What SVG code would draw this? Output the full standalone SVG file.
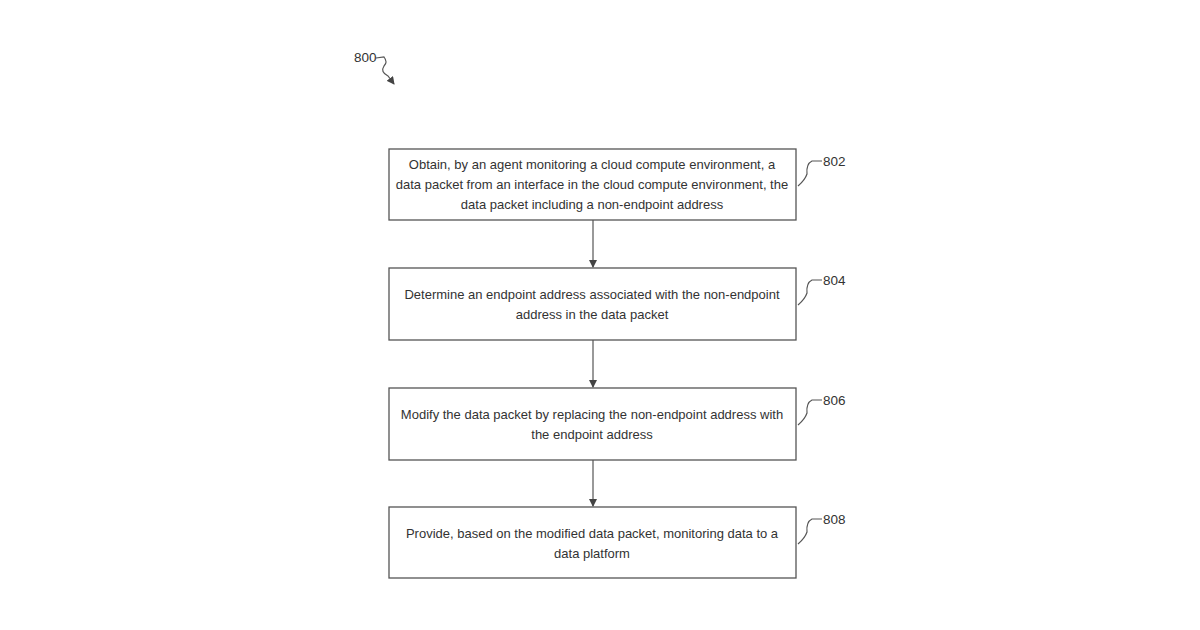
<svg xmlns="http://www.w3.org/2000/svg" width="1200" height="630" viewBox="0 0 1200 630">
<style>
.b{fill:#fff;stroke:#555;stroke-width:1.3}
.t{font-family:"Liberation Sans",Arial,sans-serif;font-size:13px;fill:#333;text-anchor:middle}
.r{font-family:"Liberation Sans",Arial,sans-serif;font-size:13.5px;fill:#333}
.c{fill:none;stroke:#555;stroke-width:1.2}
</style>
<defs><marker id="a" markerWidth="8" markerHeight="8" refX="7" refY="4" orient="auto" markerUnits="userSpaceOnUse"><path d="M0,0L8,4L0,8z" fill="#444"/></marker></defs>
<rect width="1200" height="630" fill="#fff"/>
<g id="label800"><text class="r" x="354" y="62">800</text><path class="c" d="M376,58 L384,57 Q388,62 384,66 Q380,72 388,76 L394,84" marker-end="url(#a)"/></g>
<g id="n802"><rect class="b" x="389" y="149" width="407" height="71"/>
<text class="t" x="592" y="169">Obtain, by an agent monitoring a cloud compute environment, a</text>
<text class="t" x="592" y="189">data packet from an interface in the cloud compute environment, the</text>
<text class="t" x="592" y="209">data packet including a non-endpoint address</text>
<path class="c" d="M798,186 Q805,180 807,174 Q806,164 812,161 L822,161"/><text class="r" x="823" y="166">802</text></g>
<g id="n804"><rect class="b" x="389" y="268" width="407" height="72"/>
<text class="t" x="592" y="299">Determine an endpoint address associated with the non-endpoint</text>
<text class="t" x="592" y="319">address in the data packet</text>
<path class="c" d="M798,305 Q805,299 807,293 Q806,283 812,280 L822,280"/><text class="r" x="823" y="285">804</text></g>
<g id="n806"><rect class="b" x="389" y="388" width="407" height="72"/>
<text class="t" x="592" y="419">Modify the data packet by replacing the non-endpoint address with</text>
<text class="t" x="592" y="439">the endpoint address</text>
<path class="c" d="M798,425 Q805,419 807,413 Q806,403 812,400 L822,400"/><text class="r" x="823" y="405">806</text></g>
<g id="n808"><rect class="b" x="389" y="507" width="407" height="71"/>
<text class="t" x="592" y="538">Provide, based on the modified data packet, monitoring data to a</text>
<text class="t" x="592" y="558">data platform</text>
<path class="c" d="M798,544 Q805,538 807,532 Q806,522 812,519 L822,519"/><text class="r" x="823" y="524">808</text></g>
<g id="connectors">
<path class="c" d="M593,220 V267" marker-end="url(#a)"/>
<path class="c" d="M593,340 V387" marker-end="url(#a)"/>
<path class="c" d="M593,460 V506" marker-end="url(#a)"/>
</g>
</svg>
